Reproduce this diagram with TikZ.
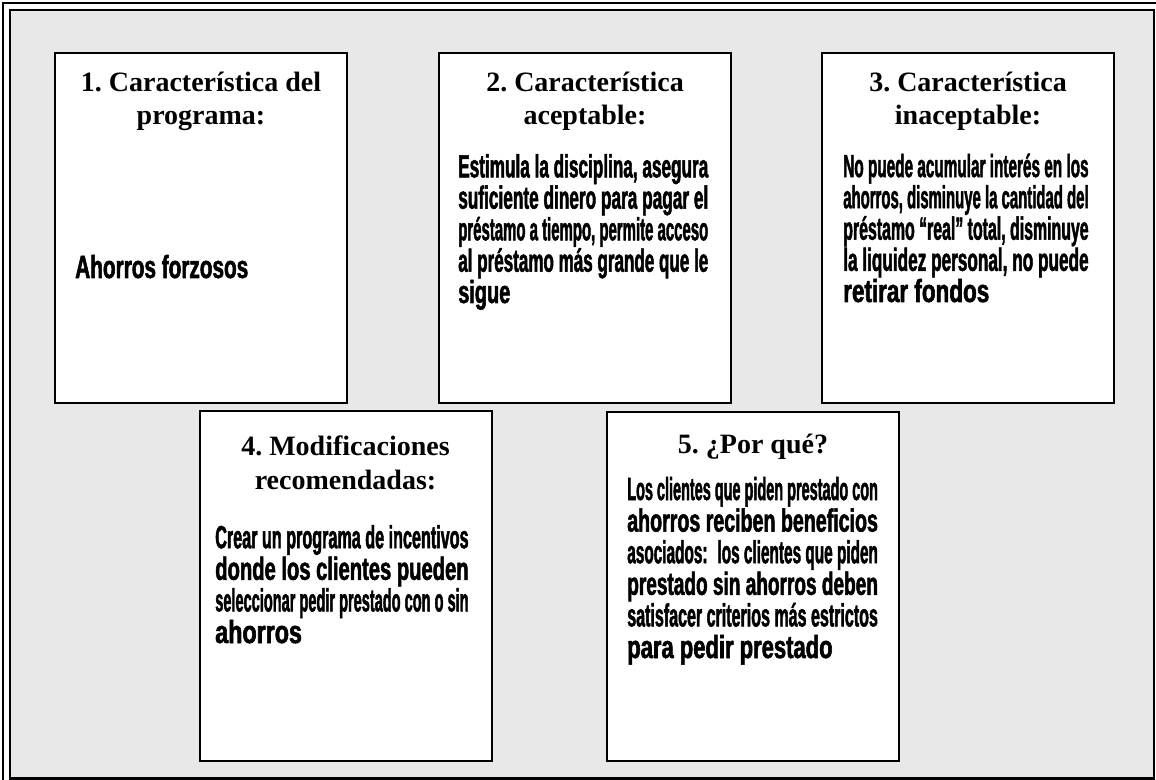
\documentclass[tikz,border=0pt]{standalone}
\usepackage{fontspec}
\usepackage{graphicx}
\setmainfont{Liberation Serif}
\newfontfamily\condfont[FakeStretch=0.6,FakeBold=1.6]{Liberation Sans Bold}
\definecolor{panelbg}{HTML}{E8E8E8}
\tikzset{
  frame/.style={line width=1.5pt},
  card/.style={draw, fill=white, line width=1.5pt, minimum width=219pt,
    minimum height=262pt, inner sep=0pt},
  head/.style={font=\bfseries\fontsize{21}{25}\selectfont, align=center,
    inner sep=0pt, anchor=base},
  body/.style={font=\condfont\fontsize{24}{21}\selectfont, align=left,
    inner sep=0pt, anchor=base west},
  loose/.style={body, font=\condfont\fontsize{24}{23.7}\selectfont},
  linew/.code={\def\linew{#1}},
}
\def\linew{187.5pt}
% every full line is stretched to the column width
\newcommand{\fitline}[2][\linew]{\resizebox{#1}{\height}{#2}}

\begin{document}
\begin{tikzpicture}[x=0.75pt,y=-0.75pt]
\useasboundingbox (0,0) rectangle (1156,780);
\clip (0,0) rectangle (1156,780);

%% ---- double frame ------------------------------------------------------
\draw[frame] (3,3) rectangle (1162,786);
\draw[frame, fill=panelbg, line width=2pt] (10,10) rectangle (1154,778.5);

%% ---- cards -------------------------------------------------------------
\node[card] (c1) at (201,228) {};
\node[card] (c2) at (585,228) {};
\node[card] (c3) at (968,228) {};
\node[card] (c4) at (345.5,586) {};
\node[card] (c5) at (753,586.5) {};

%% ---- headings (placed on the baseline of their last line) --------------
\node[head] (h1) at (201,125) {1.\ Característica del\\programa:};
\node[head] (h2) at (585,125) {2.\ Característica\\aceptable:};
\node[head] (h3) at (968,125) {3.\ Característica\\inaceptable:};
\node[head] (h4) at (345.5,489) {4.\ Modificaciones\\recomendadas:};
\node[head] (h5) at (753,453) {5.\ ¿Por qué?};

%% ---- texts -------------------------------------------------------------
\node[body] (b1) at (75,278) {\fitline[129.75pt]{Ahorros forzosos}};
\node[body] (b2) at (458,303) {%
  \fitline{Estimula la disciplina, asegura}\\
  \fitline{suficiente dinero para pagar el}\\
  \fitline{préstamo a tiempo, permite acceso}\\
  \fitline{al préstamo más grande que le}\\
  \fitline[39pt]{sigue}};
\node[body, linew=184pt] (b3) at (843,302) {%
  \fitline{No puede acumular interés en los}\\
  \fitline{ahorros, disminuye la cantidad del}\\
  \fitline{préstamo “real” total, disminuye}\\
  \fitline{la liquidez personal, no puede}\\
  \fitline[109.5pt]{retirar fondos}};
\node[loose, linew=190pt] (b4) at (215,643) {%
  \fitline{Crear un programa de incentivos}\\
  \fitline{donde los clientes pueden}\\
  \fitline{seleccionar pedir prestado con o sin}\\
  \fitline[65pt]{ahorros}};
\node[loose, linew=188pt] (b5) at (627,658) {%
  \fitline{Los clientes que piden prestado con}\\
  \fitline{ahorros reciben beneficios}\\
  \fitline{asociados:~ los clientes que piden}\\
  \fitline{prestado sin ahorros deben}\\
  \fitline{satisfacer criterios más estrictos}\\
  \fitline[154pt]{para pedir prestado}};

\end{tikzpicture}
\end{document}
